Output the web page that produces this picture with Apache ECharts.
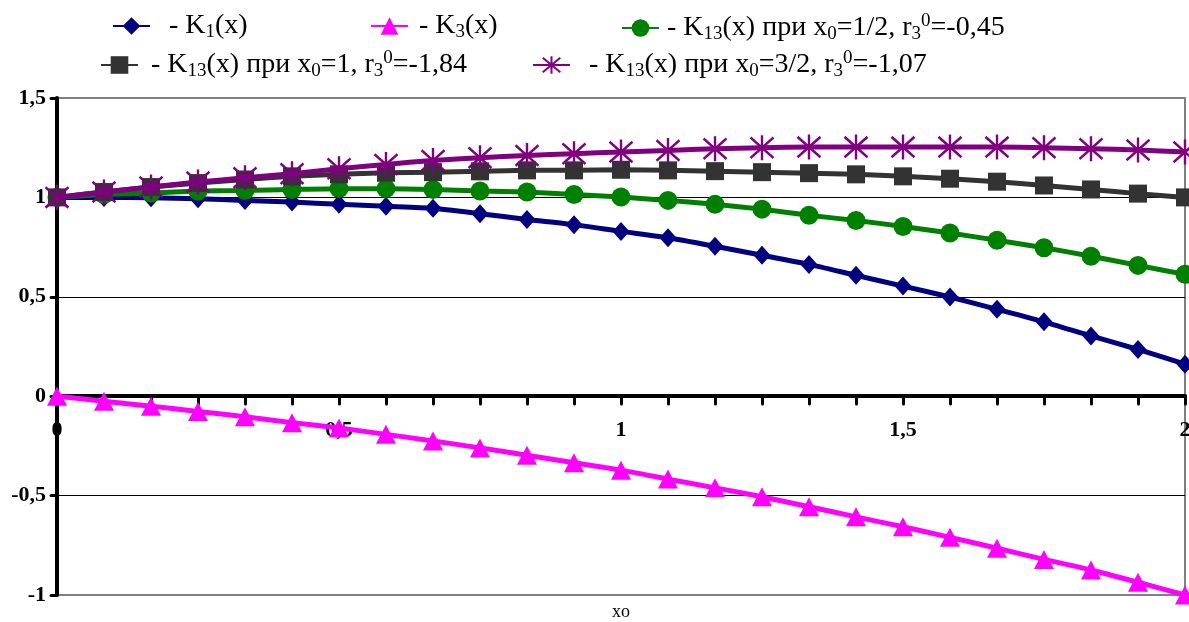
<!DOCTYPE html>
<html>
<head>
<meta charset="utf-8">
<script src="https://cdn.jsdelivr.net/npm/echarts@6/dist/echarts.min.js"></script>
<style>html,body{margin:0;padding:0;background:#fff}#c{width:1189px;height:622px}</style>
</head>
<body>
<div id="c"></div>
<script>
const xValues = [0,0.0833,0.1667,0.25,0.3333,0.4167,0.5,0.5833,0.6667,0.75,0.8333,0.9167,1,1.0833,1.1667,1.25,1.3333,1.4167,1.5,1.5833,1.6667,1.75,1.8333,1.9167,2];
const k1 = [1.0,1.0,0.998,0.993,0.985,0.977,0.965,0.955,0.945,0.918,0.889,0.863,0.829,0.797,0.754,0.709,0.663,0.608,0.554,0.499,0.437,0.374,0.303,0.235,0.161];
const k3 = [0,-0.025,-0.05,-0.077,-0.103,-0.133,-0.16,-0.192,-0.225,-0.26,-0.297,-0.335,-0.372,-0.417,-0.461,-0.506,-0.556,-0.607,-0.657,-0.71,-0.765,-0.821,-0.874,-0.936,-1.0];
const k13half = [1.0,1.015,1.022,1.032,1.035,1.04,1.044,1.044,1.04,1.032,1.027,1.015,1.002,0.985,0.965,0.941,0.91,0.884,0.854,0.821,0.784,0.747,0.704,0.658,0.613];
const k13one = [1.0,1.027,1.052,1.072,1.09,1.106,1.116,1.124,1.127,1.131,1.136,1.136,1.139,1.136,1.132,1.127,1.122,1.116,1.106,1.094,1.079,1.06,1.04,1.019,1.0];
const k13threeHalf = [1.0,1.027,1.052,1.077,1.099,1.119,1.144,1.166,1.186,1.199,1.211,1.22,1.228,1.236,1.245,1.25,1.253,1.253,1.253,1.253,1.253,1.25,1.245,1.238,1.228];
const yTicks = [-1,-0.5,0,0.5,1,1.5];
const xLabelTicks = [0,0.5,1,1.5,2];

const FONT = '"Liberation Serif","Times New Roman",serif';
const pair = (ys) => xValues.map((x,i)=>[x, ys[i]]);
const comma = v => String(v).replace('.', ',');

const legendNames = {
  K1: '{sp| }{t|- K}{s|1}{t|(x)}',
  K3: '{sp| }{t|- K}{s|3}{t|(x)}',
  K13a: '{sp| }{t|- K}{s|13}{t|(x) при x}{s|0}{t|=1/2, r}{s|3}{u|0}{t|=-0,45}',
  K13b: '{sp| }{t|- K}{s|13}{t|(x) при x}{s|0}{t|=1, r}{s|3}{u|0}{t|=-1,84}',
  K13c: '{sp| }{t|- K}{s|13}{t|(x) при x}{s|0}{t|=3/2, r}{s|3}{u|0}{t|=-1,07}'
};
function mkLegend(name, left, top, spW){
  return {
    data:[name], left:left, top:top, itemWidth:37, itemHeight:22, padding:0,
    formatter: n => legendNames[n],
    textStyle:{
      color:'#000', fontFamily:FONT,
      rich:{
        sp:{width:spW, fontSize:10},
        t:{fontSize:28, fontFamily:FONT, color:'#000', lineHeight:32},
        s:{fontSize:19, fontFamily:FONT, color:'#000', lineHeight:18, verticalAlign:'bottom'},
        u:{fontSize:19, fontFamily:FONT, color:'#000', lineHeight:18, verticalAlign:'top'}
      }
    }
  };
}
const starPath = 'path://M10,0L10,22M0,2L20,20M0,20L20,2';

const chart = echarts.init(document.getElementById('c'), null, {renderer:'canvas'});
chart.setOption({
  animation:false,
  backgroundColor:'#fff',
  legend:[
    mkLegend('K1', 112, 12, 14),
    mkLegend('K3', 370, 12, 6),
    mkLegend('K13a', 621, 12, 3),
    mkLegend('K13b', 100, 49, 8),
    mkLegend('K13c', 532, 49, 14)
  ],
  grid:{left:57, right:4, top:98, bottom:27, containLabel:false, outerBoundsMode:'none',
        show:true, borderColor:'#808080', borderWidth:2, backgroundColor:'#fff'},
  xAxis:{
    type:'value', min:0, max:2, interval:0.5, offset:-199,
    axisLine:{show:true, onZero:false, lineStyle:{color:'#000', width:4}},
    axisTick:{show:true, length:8, lineStyle:{color:'#000', width:3, cap:'round'}},
    minorTick:{show:true, splitNumber:6, length:8, lineStyle:{color:'#000', width:3, cap:'round'}},
    splitLine:{show:false},
    axisLabel:{margin:23, fontFamily:FONT, fontWeight:'bold', fontSize:22, color:'#000',
      formatter: v => xLabelTicks.includes(v) ? comma(v) : ''},
    name:'xo', nameLocation:'middle', nameGap:207,
    nameTextStyle:{fontFamily:FONT, fontSize:18, color:'#000'}
  },
  yAxis:{
    type:'value', min:-1, max:1.5, interval:0.5,
    axisLine:{show:true, onZero:false, lineStyle:{color:'#000', width:4}},
    axisTick:{show:true, length:6, lineStyle:{color:'#000', width:3, cap:'round'}},
    splitLine:{show:true, lineStyle:{color:['#808080','#000','#000','#000','#000','#808080'], width:1}},
    axisLabel:{margin:11, fontFamily:FONT, fontWeight:'bold', fontSize:22, color:'#000',
      formatter: v => yTicks.includes(v) ? comma(v) : ''}
  },
  series:[
    {name:'K1', type:'line', data:pair(k1), smooth:0.2, symbol:'diamond', symbolSize:[17,19],
      lineStyle:{color:'#000080', width:5}, itemStyle:{color:'#000080'}, z:3},
    {name:'K3', type:'line', data:pair(k3), smooth:0.2, symbol:'triangle', symbolSize:[20,19],
      lineStyle:{color:'#FF00FF', width:5}, itemStyle:{color:'#FF00FF'}, z:3},
    {name:'K13a', type:'line', data:pair(k13half), smooth:0.2, symbol:'circle', symbolSize:19,
      lineStyle:{color:'#008000', width:5}, itemStyle:{color:'#008000'}, z:4},
    {name:'K13b', type:'line', data:pair(k13one), smooth:0.2, symbol:'rect', symbolSize:18,
      lineStyle:{color:'#333333', width:5}, itemStyle:{color:'#333333'}, z:5},
    {name:'K13c', type:'line', data:pair(k13threeHalf), smooth:0.2, symbol:starPath, symbolSize:[23,25],
      lineStyle:{color:'#800080', width:5},
      itemStyle:{color:'#800080', borderColor:'#800080', borderWidth:2.5}, z:6}
  ]
});
</script>
</body>
</html>
